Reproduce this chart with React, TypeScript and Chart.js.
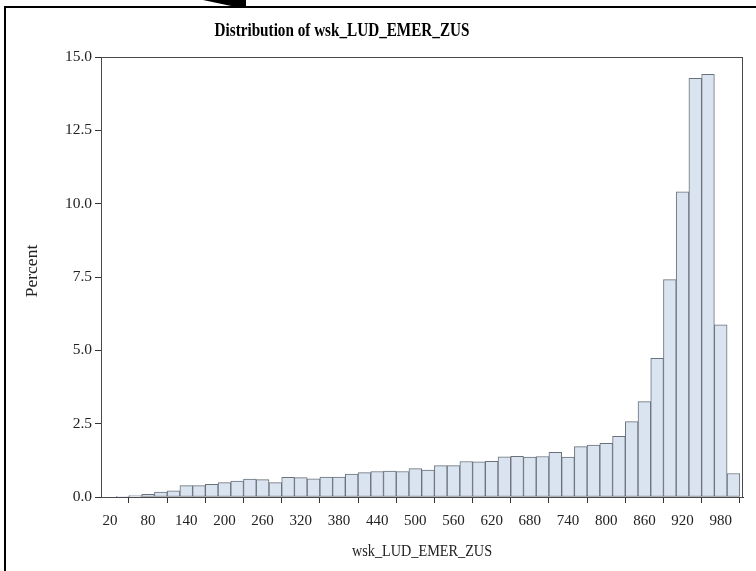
import { useEffect, useRef } from 'react';
import { Chart, registerables } from 'chart.js';

Chart.register(...registerables);

const chartTitle = 'Distribution of wsk_LUD_EMER_ZUS';
const xAxisTitle = 'wsk_LUD_EMER_ZUS';
const yAxisTitle = 'Percent';

const binMidpoints = [
  20, 40, 60, 80, 100, 120, 140, 160, 180, 200,
  220, 240, 260, 280, 300, 320, 340, 360, 380, 400,
  420, 440, 460, 480, 500, 520, 540, 560, 580, 600,
  620, 640, 660, 680, 700, 720, 740, 760, 780, 800,
  820, 840, 860, 880, 900, 920, 940, 960, 980, 1000,
];

const percentValues = [
  0, 0.01, 0.045, 0.09, 0.17, 0.21, 0.39, 0.39, 0.43, 0.49,
  0.54, 0.61, 0.59, 0.49, 0.67, 0.66, 0.62, 0.68, 0.68, 0.78,
  0.83, 0.87, 0.88, 0.87, 0.97, 0.92, 1.07, 1.07, 1.21, 1.2,
  1.22, 1.37, 1.39, 1.36, 1.38, 1.52, 1.36, 1.72, 1.77, 1.83,
  2.07, 2.57, 3.25, 4.73, 7.41, 10.4, 14.27, 14.41, 5.87, 0.8,
];

const xTickValues = [20, 80, 140, 200, 260, 320, 380, 440, 500, 560, 620, 680, 740, 800, 860, 920, 980];
const yTickValues = [0, 2.5, 5, 7.5, 10, 12.5, 15];

const SERIF = '"Liberation Serif", "Times New Roman", serif';

const decorPlugin = {
  id: 'decor',
  afterDraw(chart: any) {
    const { ctx, chartArea } = chart;
    ctx.save();
    // plot wall frame
    ctx.strokeStyle = '#4a4a4a';
    ctx.lineWidth = 1;
    ctx.strokeRect(chartArea.left + 0.5, chartArea.top + 0.5, chartArea.right - chartArea.left - 1, chartArea.bottom - chartArea.top);
    // outer frame
    ctx.fillStyle = '#000';
    ctx.fillRect(4, 6, 2, 571 - 6);
    ctx.fillRect(4, 6, 756 - 4, 2);
    ctx.beginPath();
    ctx.moveTo(203, 0);
    ctx.lineTo(246, 0);
    ctx.lineTo(246, 7);
    ctx.lineTo(236, 7);
    ctx.closePath();
    ctx.fill();
    // title (slightly tall letterforms, as in the reference)
    ctx.fillStyle = '#000';
    ctx.font = `bold 15.5px ${SERIF}`;
    ctx.textAlign = 'center';
    ctx.textBaseline = 'middle';
    ctx.save();
    ctx.translate(342, 31);
    ctx.scale(0.98, 1.2);
    ctx.fillText(chartTitle, 0, 0);
    ctx.restore();
    // x axis title
    ctx.fillStyle = '#222';
    ctx.save();
    ctx.translate((chartArea.left + chartArea.right) / 2, 551);
    ctx.scale(0.95, 1.15);
    ctx.font = `15px ${SERIF}`;
    ctx.fillText(xAxisTitle, 0, 0);
    ctx.restore();
    // y axis title
    ctx.save();
    ctx.translate(32, 271);
    ctx.rotate(-Math.PI / 2);
    ctx.font = `17.5px ${SERIF}`;
    ctx.fillText(yAxisTitle, 0, 0);
    ctx.restore();
    ctx.restore();
  },
};

export default function App() {
  const ref = useRef<HTMLCanvasElement | null>(null);
  useEffect(() => {
    if (!ref.current) return;
    const chart = new Chart(ref.current, {
      type: 'bar',
      data: {
        datasets: [
          {
            data: binMidpoints.map((x, i) => ({ x, y: percentValues[i] })),
            backgroundColor: '#dae3f0',
            borderColor: '#69717a',
            borderWidth: 1,
            borderSkipped: false,
            barPercentage: 1,
            categoryPercentage: 1,
          } as any,
        ],
      },
      options: {
        animation: false,
        responsive: false,
        devicePixelRatio: 1,
        layout: { padding: { left: 0, right: 13, top: 57, bottom: 0 } },
        plugins: { legend: { display: false }, tooltip: { enabled: false }, title: { display: false } },
        scales: {
          x: {
            type: 'linear',
            min: 6,
            max: 1015,
            offset: false,
            afterBuildTicks: (scale: any) => {
              scale.ticks = xTickValues.map((v) => ({ value: v }));
            },
            afterFit: (scale: any) => {
              scale.height = 74;
            },
            ticks: {
              autoSkip: false,
              maxRotation: 0,
              padding: 9,
              color: '#222',
              font: { family: SERIF, size: 15 },
              callback: (v: any) => String(v),
            },
            grid: { drawOnChartArea: false, drawTicks: true, tickLength: 6, tickColor: '#333', tickWidth: 1 },
            border: { display: true, color: '#333', width: 1 },
            title: { display: false },
          },
          y: {
            min: 0,
            max: 15,
            afterBuildTicks: (scale: any) => {
              scale.ticks = yTickValues.map((v) => ({ value: v }));
            },
            afterFit: (scale: any) => {
              scale.width = 101;
            },
            ticks: {
              padding: 3,
              color: '#222',
              font: { family: SERIF, size: 15.5 },
              callback: (v: any) => Number(v).toFixed(1),
            },
            grid: { drawOnChartArea: false, drawTicks: true, tickLength: 6, tickColor: '#333', tickWidth: 1 },
            border: { display: true, color: '#333', width: 1 },
            title: { display: false },
          },
        },
      },
      plugins: [decorPlugin],
    } as any);
    return () => chart.destroy();
  }, []);
  return (
    <div style={{ position: 'absolute', left: 0, top: 0, width: 756, height: 571, background: '#fff' }}>
      <canvas ref={ref} width={756} height={571} />
    </div>
  );
}
